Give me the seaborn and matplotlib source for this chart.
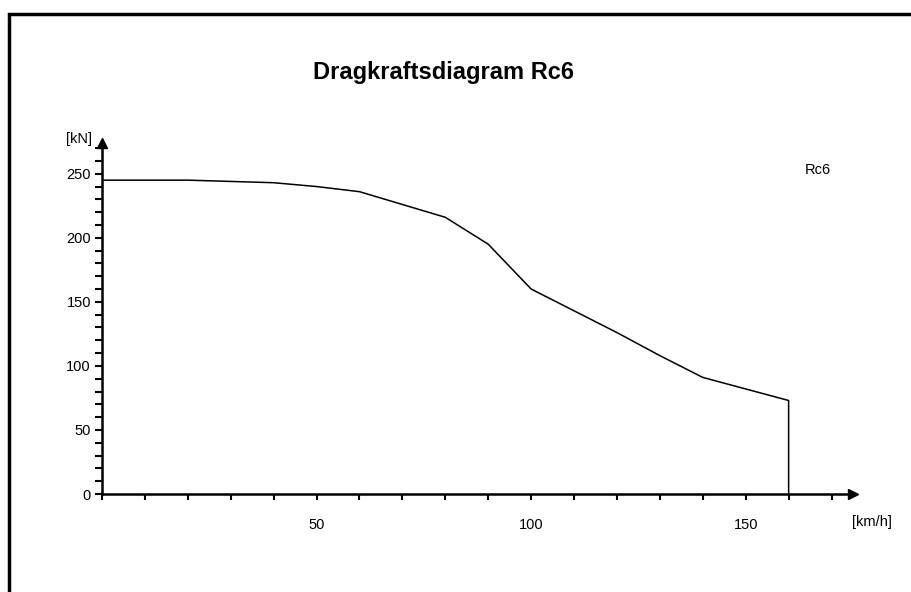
import matplotlib
matplotlib.use("Agg")
import matplotlib.pyplot as plt
from matplotlib.patches import Rectangle
from matplotlib.ticker import MultipleLocator, FixedLocator
import seaborn as sns
import pandas as pd

speed = [0, 10, 20, 30, 40, 50, 60, 70, 80, 90, 100, 110, 120, 130, 140, 150, 160, 160]
force = [245, 245, 245, 244, 243, 240, 236, 226, 216, 195, 160, 143, 126, 108, 91, 82, 73, 0]
title = "Dragkraftsdiagram Rc6"
series_name = "Rc6"
x_ticks = [50, 100, 150]
y_ticks = [0, 50, 100, 150, 200, 250]

sns.set_style("white")
plt.rcParams['font.family'] = ['Liberation Sans', 'DejaVu Sans']
plt.rcParams['text.color'] = 'black'
plt.rcParams['xtick.labelcolor'] = 'black'
plt.rcParams['ytick.labelcolor'] = 'black'

df = pd.DataFrame({"speed": speed, "force": force, "order": range(len(speed))})

fig = plt.figure(figsize=(9.12, 5.92), dpi=100)
fig.patch.set_facecolor("white")
ax = fig.add_axes([102/912, (592-494)/592, (853-102)/912, (494-143)/592])

sns.lineplot(data=df, x="speed", y="force", sort=False, estimator=None,
             color="black", linewidth=1.1, ax=ax, label=series_name)

ax.set_xlim(0, 175)
ax.set_ylim(0, 274)
ax.xaxis.set_major_locator(FixedLocator(x_ticks))
ax.xaxis.set_minor_locator(MultipleLocator(10))
ax.yaxis.set_major_locator(FixedLocator(y_ticks))
ax.yaxis.set_minor_locator(MultipleLocator(10))
ax.tick_params(axis="x", which="both", direction="out", length=4, width=1.5,
               color="black", labelcolor="black", labelsize=10.5, pad=13, bottom=True)
ax.tick_params(axis="y", which="both", direction="out", length=5, width=1.5,
               color="black", labelcolor="black", labelsize=10.5, pad=3, left=True)
ax.set_xlabel("")
ax.set_ylabel("")
for s in ["top", "right"]:
    ax.spines[s].set_visible(False)
for s in ["left", "bottom"]:
    ax.spines[s].set_color("black")
    ax.spines[s].set_linewidth(1.8)

# axis arrows
ax.plot(1, 0, marker=">", color="black", markersize=7, transform=ax.transAxes, clip_on=False)
ax.plot(0, 1, marker="^", color="black", markersize=7, transform=ax.transAxes, clip_on=False)

leg = ax.legend(loc="upper left", bbox_to_anchor=((805-102)/(853-102), (494-163)/(494-143)),
                frameon=False, handlelength=0, handletextpad=0, fontsize=10.5,
                borderaxespad=0, borderpad=0, labelcolor="black")
for h in leg.legend_handles:
    h.set_visible(False)

fig.text(444/912, 1-73/592, title, ha="center", va="center", fontsize=17,
         fontweight="bold", color="black")
fig.text(79/912, 1-139/592, "[kN]", ha="center", va="center", fontsize=10.5, color="black")
fig.text(872/912, 1-522/592, "[km/h]", ha="center", va="center", fontsize=10.5, color="black")

fig.patches.append(Rectangle((9/912, -0.1), 2.0, 1.1 - 14/592, transform=fig.transFigure,
                             fill=False, edgecolor="black", linewidth=2.5, clip_on=False))

fig.savefig("out.png", dpi=100, facecolor="white")
